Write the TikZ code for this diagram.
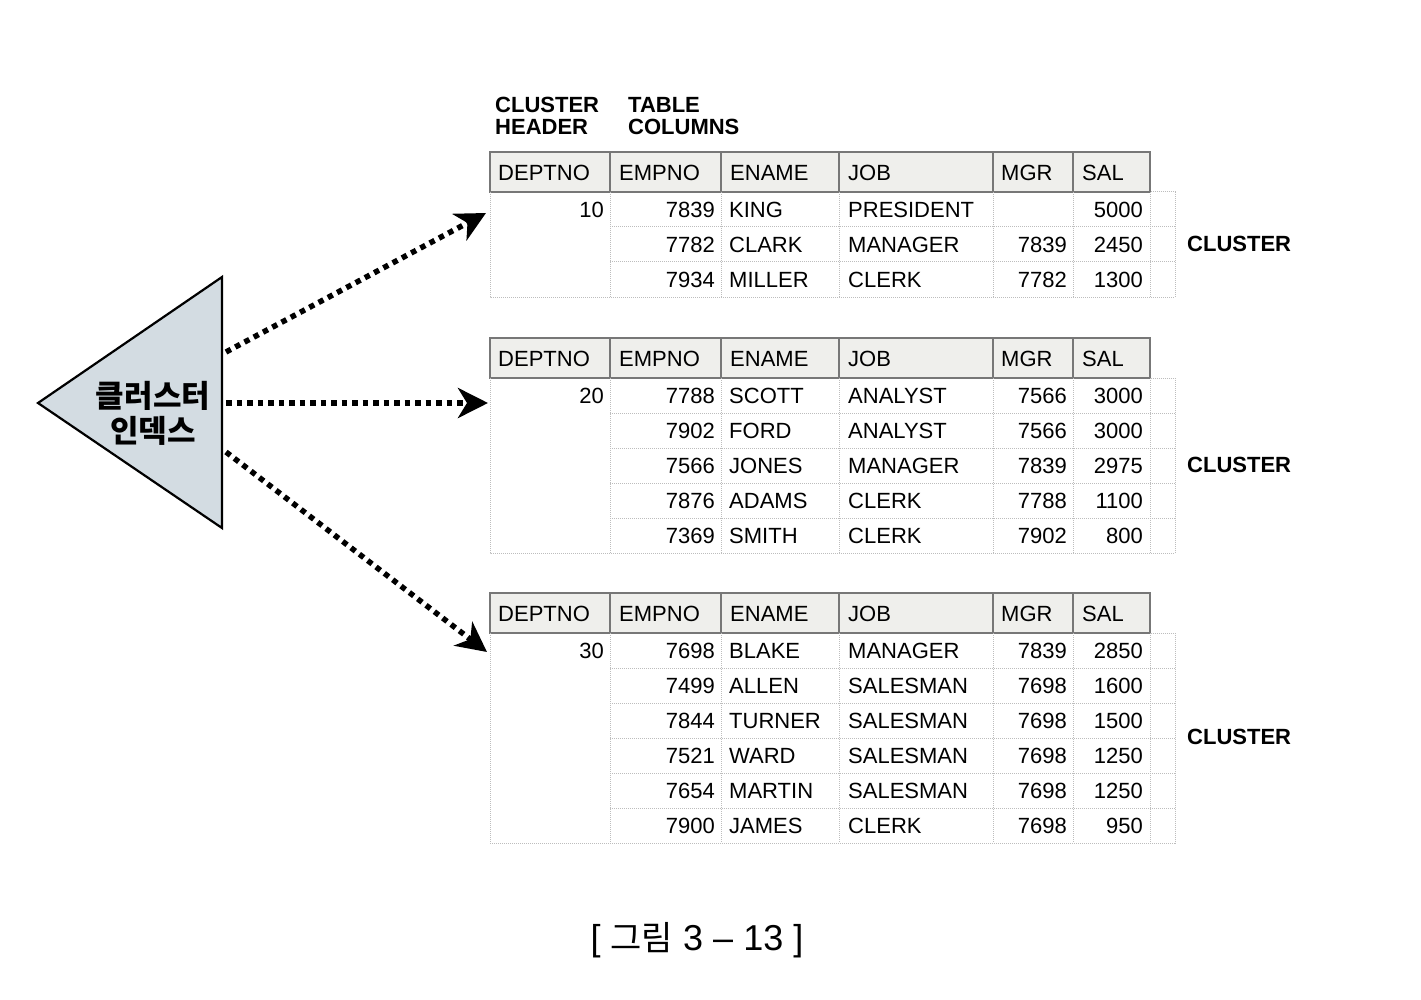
\documentclass[tikz,border=0pt]{standalone}
\usepackage{fontspec}
\setmainfont{Liberation Sans}
\newfontfamily\krfont{Noto Sans CJK KR}
\usetikzlibrary{arrows.meta}
\definecolor{hdrfill}{HTML}{EFEFEC}
\definecolor{hdrline}{HTML}{777777}
\definecolor{bodyline}{HTML}{BDBDBD}
\definecolor{trifill}{HTML}{D3DCE2}
\tikzset{
  cell/.style={font=\fontsize{22}{24}\selectfont, inner sep=0pt},
  hdrtxt/.style={cell, anchor=west},
  lefttxt/.style={cell, anchor=west},
  righttxt/.style={cell, anchor=east},
  clusterlbl/.style={font=\fontsize{22}{24}\selectfont\bfseries, inner sep=0pt, anchor=west},
  hdrbox/.style={draw=hdrline, line width=1.6pt, fill=hdrfill},
  bodyrule/.style={draw=bodyline, line width=1pt, densely dotted},
  dotarrow/.style={line width=5.5pt, dash pattern=on 5.5pt off 5pt,
     -{Stealth[length=30pt,width=30pt,inset=9pt]}, shorten <=0pt},
}
% #1 top y, #2 number of rows, #3 name
\newcommand{\tabframe}[3]{%
  \pgfmathsetmacro{\bt}{#1+40}%
  \pgfmathsetmacro{\bb}{#1+40+35*#2}%
  \path[hdrbox] (490,#1) rectangle (1150,\bt);
  \foreach \cx in {610,721,839,993,1073}{\draw[hdrline,line width=1.6pt] (\cx,#1) -- (\cx,\bt);}
  \node[hdrtxt] at (498,#1+21) {DEPTNO};
  \node[hdrtxt] at (619,#1+21) {EMPNO};
  \node[hdrtxt] at (730,#1+21) {ENAME};
  \node[hdrtxt] at (848,#1+21) {JOB};
  \node[hdrtxt] at (1001,#1+21) {MGR};
  \node[hdrtxt] at (1082,#1+21) {SAL};
  % body frame
  \draw[bodyrule] (490,\bt) -- (490,\bb) -- (1175,\bb) -- (1175,\bt) -- (1150,\bt);
  \foreach \cx in {610,721,839,993,1073,1150}{\draw[bodyrule] (\cx,\bt) -- (\cx,\bb);}
  \foreach \r in {1,...,#2}{%
    \pgfmathsetmacro{\ry}{#1+40+35*\r}%
    \ifnum\r<#2 \draw[bodyrule] (610,\ry) -- (1175,\ry);\fi
  }
  \coordinate (#3-in) at (488,\bt+21);
}
% #1 top y, #2 dept, #3 rows list
\newcommand{\tabrows}[3]{%
  \node[righttxt] at (604,#1+58) {#2};
  \foreach \e/\n/\j/\m/\s [count=\i from 0] in {#3}{%
    \pgfmathsetmacro{\ty}{#1+58+35*\i}%
    \node[righttxt] at (715,\ty) {\e};
    \node[lefttxt] at (729,\ty) {\n};
    \node[lefttxt] at (848,\ty) {\j};
    \node[righttxt] at (1067,\ty) {\m};
    \node[righttxt] at (1143,\ty) {\s};
  }%
}
\begin{document}
\begin{tikzpicture}[x=1pt,y=-1pt]
\useasboundingbox[fill=white] (0,0) rectangle (1421,1000);

% column group labels
\node[clusterlbl, align=left, font=\fontsize{22}{22}\selectfont\bfseries] (hdrlbl) at (495,116) {CLUSTER\\HEADER};
\node[clusterlbl, align=left, font=\fontsize{22}{22}\selectfont\bfseries] (collbl) at (628,116) {TABLE\\COLUMNS};

% tables
\tabframe{152}{3}{t1}
\tabrows{152}{10}{7839/KING/PRESIDENT//5000, 7782/CLARK/MANAGER/7839/2450, 7934/MILLER/CLERK/7782/1300}
\tabframe{338}{5}{t2}
\tabrows{338}{20}{7788/SCOTT/ANALYST/7566/3000, 7902/FORD/ANALYST/7566/3000, 7566/JONES/MANAGER/7839/2975, 7876/ADAMS/CLERK/7788/1100, 7369/SMITH/CLERK/7902/800}
\tabframe{593}{6}{t3}
\tabrows{593}{30}{7698/BLAKE/MANAGER/7839/2850, 7499/ALLEN/SALESMAN/7698/1600, 7844/TURNER/SALESMAN/7698/1500, 7521/WARD/SALESMAN/7698/1250, 7654/MARTIN/SALESMAN/7698/1250, 7900/JAMES/CLERK/7698/950}

% cluster labels
\node[clusterlbl] (c1) at (1187,244) {CLUSTER};
\node[clusterlbl] (c2) at (1187,465) {CLUSTER};
\node[clusterlbl] (c3) at (1187,737) {CLUSTER};

% triangle (cluster index)
\path[draw=black, line width=2.2pt, fill=trifill, line join=miter]
  (38,403) -- (222,277) -- (222,528) -- cycle;
\node[font=\krfont\bfseries\fontsize{31}{35}\selectfont, align=center, inner sep=0pt] (idx) at (153,413) {클러스터\\인덱스};
\coordinate (a1) at (226,352);
\coordinate (a2) at (226,403);
\coordinate (a3) at (226,452);

% arrows
\coordinate (t1tip) at (486,213);
\coordinate (t3tip) at (487,652);
\draw[dotarrow] (a1) -- (t1tip);
\draw[dotarrow] (a2) -- (t2-in |- a2);
\draw[dotarrow] (a3) -- (t3tip);

% caption
\node[font=\fontsize{36}{40}\selectfont, inner sep=0pt] (cap) at (697,940) {[ {\krfont\fontsize{34}{40}\selectfont 그림} 3 – 13 ]};
\end{tikzpicture}
\end{document}
